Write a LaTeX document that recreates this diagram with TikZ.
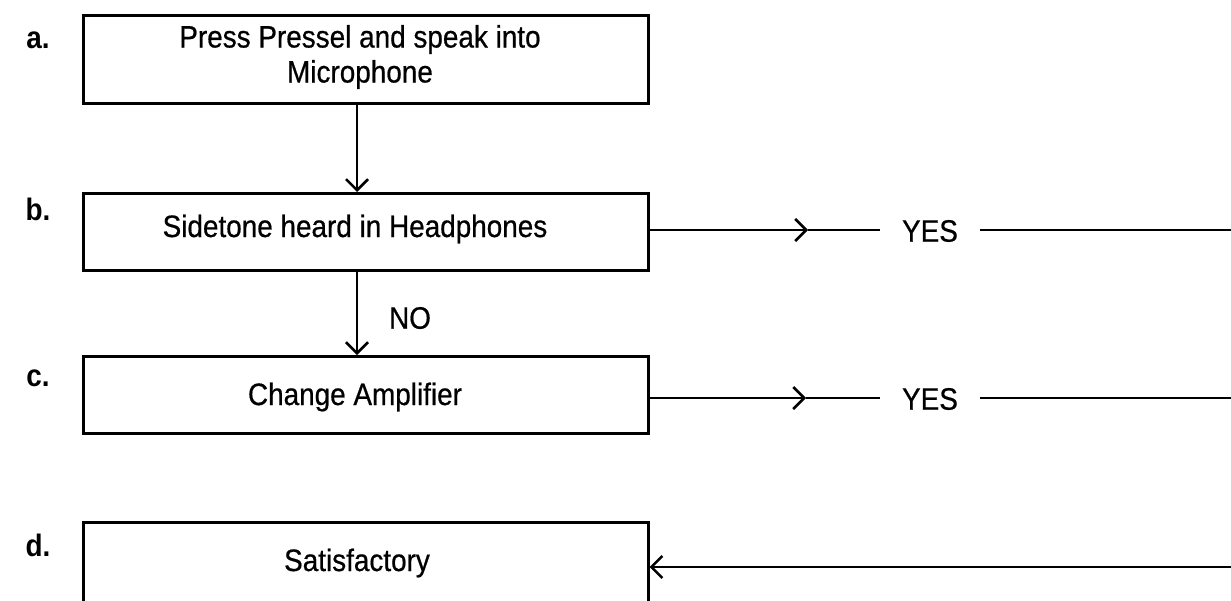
\documentclass[tikz,border=0pt]{standalone}
\usepackage{fontspec}
\setmainfont[FakeStretch=0.9]{Liberation Sans}
\newfontfamily\txtfont[FakeStretch=0.9,FakeBold=0.6]{Liberation Sans}
\usetikzlibrary{arrows.meta}
\begin{document}
\begin{tikzpicture}[x=1pt,y=-1pt,
  box/.style={draw,line width=2.6pt,minimum width=565pt,anchor=north west,inner sep=0pt},
  lbl/.style={font=\fontsize{31}{33}\selectfont\bfseries},
  txt/.style={font=\fontsize{31}{35}\selectfont\txtfont,align=center},
  yes/.style={txt,inner xsep=22pt},
  conn/.style={line width=2.5pt},
  arr/.style={conn,-{Straight Barb[length=11pt,width=22pt,line width=2.5pt]}}]
\useasboundingbox (0,0) rectangle (1231,600);
\clip (0,0) rectangle (1231,600);
\node[box,minimum height=88pt] (a) at (82,14) {};
\node[box,minimum height=77pt] (b) at (82,192) {};
\node[box,minimum height=77pt] (c) at (82,355) {};
\node[box,minimum height=140pt] (d) at (82,521) {};
\node[txt] (ta) at (360,57) {Press Pressel and speak into\\Microphone};
\node[txt] (tb) at (355,229) {Sidetone heard in Headphones};
\node[txt] (tc) at (355,397) {Change Amplifier};
\node[txt] (td) at (357,563) {Satisfactory};
\node[lbl] (la) at (38,40) {a.};
\node[lbl] (lb) at (38,209) {b.};
\node[lbl] (lc) at (38,378) {c.};
\node[lbl] (ld) at (38,545) {d.};
\node[txt] (no) at (410,318) {NO};
\node[yes] (yb) at (930,231) {YES};
\node[yes] (yc) at (930,399) {YES};
\coordinate (mb) at (808,230);
\coordinate (mc) at (806,398);
\coordinate (eb) at (1231,230);
\coordinate (ec) at (1231,398);
\coordinate (ed) at (1231,567);
\draw[arr] (a.south -| 357,0) -- (b.north -| 357,0);
\draw[arr] (b.south -| 357,0) -- (c.north -| 357,0);
\draw[arr] (b.east |- mb) -- (mb);
\draw[conn] (mb) -- (yb.west |- mb);
\draw[conn] (yb.east |- eb) -- (eb);
\draw[arr] (c.east |- mc) -- (mc);
\draw[conn] (mc) -- (yc.west |- mc);
\draw[conn] (yc.east |- ec) -- (ec);
\draw[arr] (ed) -- (d.east |- ed);
\end{tikzpicture}
\end{document}
